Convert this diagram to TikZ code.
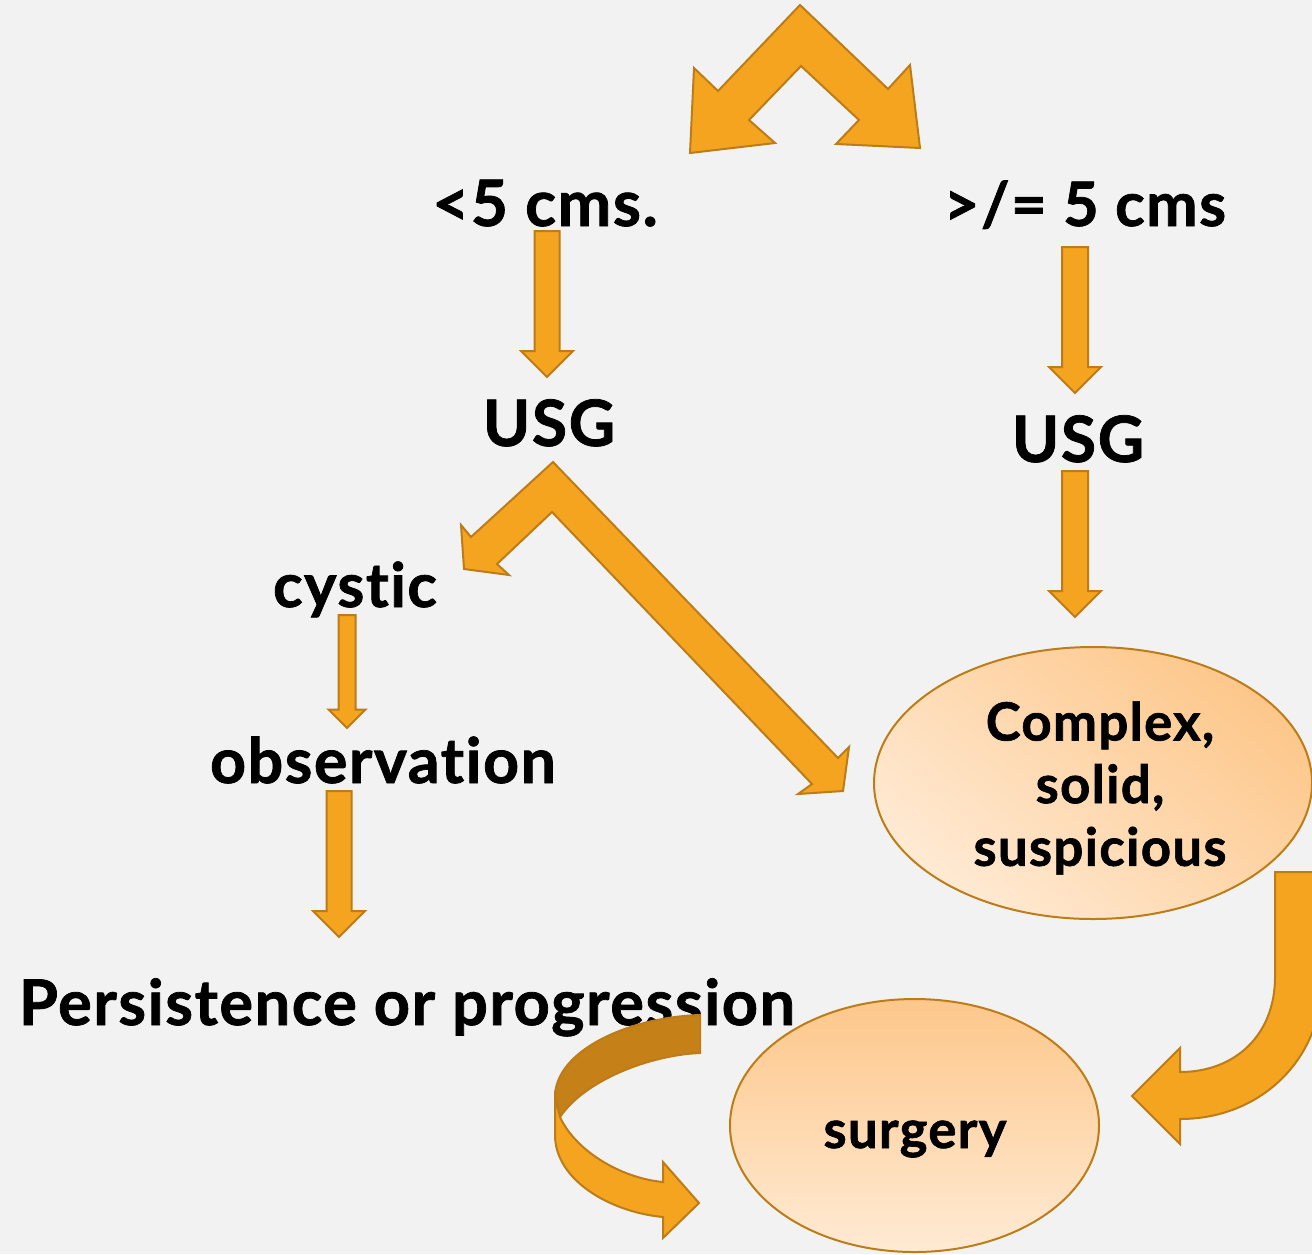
\documentclass[tikz,border=0pt]{standalone}
\usepackage{fontspec}
\setmainfont{Lato}[BoldFeatures={FakeBold=1.2, LetterSpace=2.5, Ligatures=NoCommon}]
\definecolor{bg}{RGB}{242,242,242}
\definecolor{arrowfill}{RGB}{245,164,32}
\definecolor{arrowline}{RGB}{188,124,24}
\definecolor{arrowdark}{RGB}{197,128,24}
\definecolor{elllight}{RGB}{255,234,212}
\definecolor{elldark}{RGB}{253,199,138}
\tikzset{
  blockarrow/.style={fill=arrowfill, draw=arrowline, line width=1.5pt, line join=miter},
  lbl/.style={anchor=base, inner sep=0pt, text=black, font=\bfseries},
  ellbox/.style={ellipse, draw=arrowline, line width=1.5pt, inner sep=0pt},
}
\newcommand{\blockdown}[5]{% x centre, y top, y tip, shaft half width, head half width
  \filldraw[blockarrow] (#1-#4,#2) -- (#1+#4,#2) -- (#1+#4,#3-#5) -- (#1+#5,#3-#5) -- (#1,#3) -- (#1-#5,#3-#5) -- (#1-#4,#3-#5) -- cycle;}
\usetikzlibrary{shapes.geometric}
\begin{document}
\begin{tikzpicture}[x=0.75pt,y=-0.75pt]
\fill[bg] (0,0) rectangle (1312,1254);
\useasboundingbox (0,0) rectangle (1312,1254);

% labels
\node[lbl, font=\bfseries\fontsize{48}{54}\selectfont] (small) at (545,226) {<5 cms.};
\node[lbl, font=\bfseries\fontsize{46}{52}\selectfont] (large) at (1085,226) {>/= 5 cms};
\node[lbl, font=\bfseries\fontsize{48}{55}\selectfont] (usgl) at (549,446) {USG};
\node[lbl, font=\bfseries\fontsize{48}{55}\selectfont] (usgr) at (1078,462) {USG};
\node[lbl, font=\bfseries\fontsize{46}{52}\selectfont] (cystic) at (355,607) {cystic};
\node[lbl, font=\bfseries\fontsize{47}{53}\selectfont] (obs) at (383,783) {observation};
\node[lbl, font=\bfseries\fontsize{47.3}{53}\selectfont] (pers) at (407,1025) {Persistence or progression};

% top split arrow
\filldraw[blockarrow] (800,5) -- (888,89) -- (910,65) -- (920,148) -- (836,144) -- (859,120) -- (801,66)
  -- (749,120) -- (775,143) -- (690,153) -- (694,68) -- (718,91) -- cycle;

% straight arrows
\blockdown{547}{231}{377}{12.5}{26}
\blockdown{1075}{247}{393}{13}{26}
\blockdown{1075}{471}{617}{13}{26}
\blockdown{347}{615}{728}{8.5}{18.5}
\blockdown{339}{791}{937}{12.5}{26}

% USG split arrow
\filldraw[blockarrow] (553,462) -- (838,758) -- (849,747) -- (843,791) -- (798,794) -- (812,784)
  -- (552,512) -- (497,564) -- (509,575) -- (464,569) -- (461,525) -- (471,537) -- cycle;

% ellipses
\node[ellbox, minimum width=328.5pt, minimum height=204pt, top color=elldark, bottom color=elllight, shading angle=-40] (cplx) at (1093,783) {};
\node[lbl, align=center, anchor=center, font=\bfseries\fontsize{39.5}{47}\selectfont] (cplxtext) at (1100,788) {Complex,\\ solid,\\ suspicious};
\node[ellbox, minimum width=276.75pt, minimum height=189.75pt, top color=elldark, bottom color=elllight] (surg) at (914.5,1125.5) {};
\node[lbl, font=\bfseries\fontsize{39.5}{45}\selectfont] (surgtext) at (915,1148) {surgery};

% curved arrow right
\filldraw[blockarrow] (1275,872) -- (1322,872) -- (1322,980) .. controls (1322,1060) and (1260,1119) .. (1180,1119)
  -- (1180,1144) -- (1132,1096) -- (1180,1048) -- (1180,1072) .. controls (1235,1072) and (1275,1035) .. (1275,977) -- cycle;

% curved arrow left (dark back part, light front part)
\filldraw[blockarrow, fill=arrowdark] (700,1015) .. controls (630,1017) and (555,1050) .. (555,1097)
  -- (560,1117) .. controls (585,1080) and (650,1055) .. (700,1053) -- cycle;
\filldraw[blockarrow] (555,1097) -- (555,1135) .. controls (555,1180) and (610,1212) .. (663,1217)
  -- (663,1238) -- (699,1203) -- (663,1162) -- (663,1182) .. controls (620,1178) and (575,1150) .. (560,1117) -- cycle;
\end{tikzpicture}
\end{document}
